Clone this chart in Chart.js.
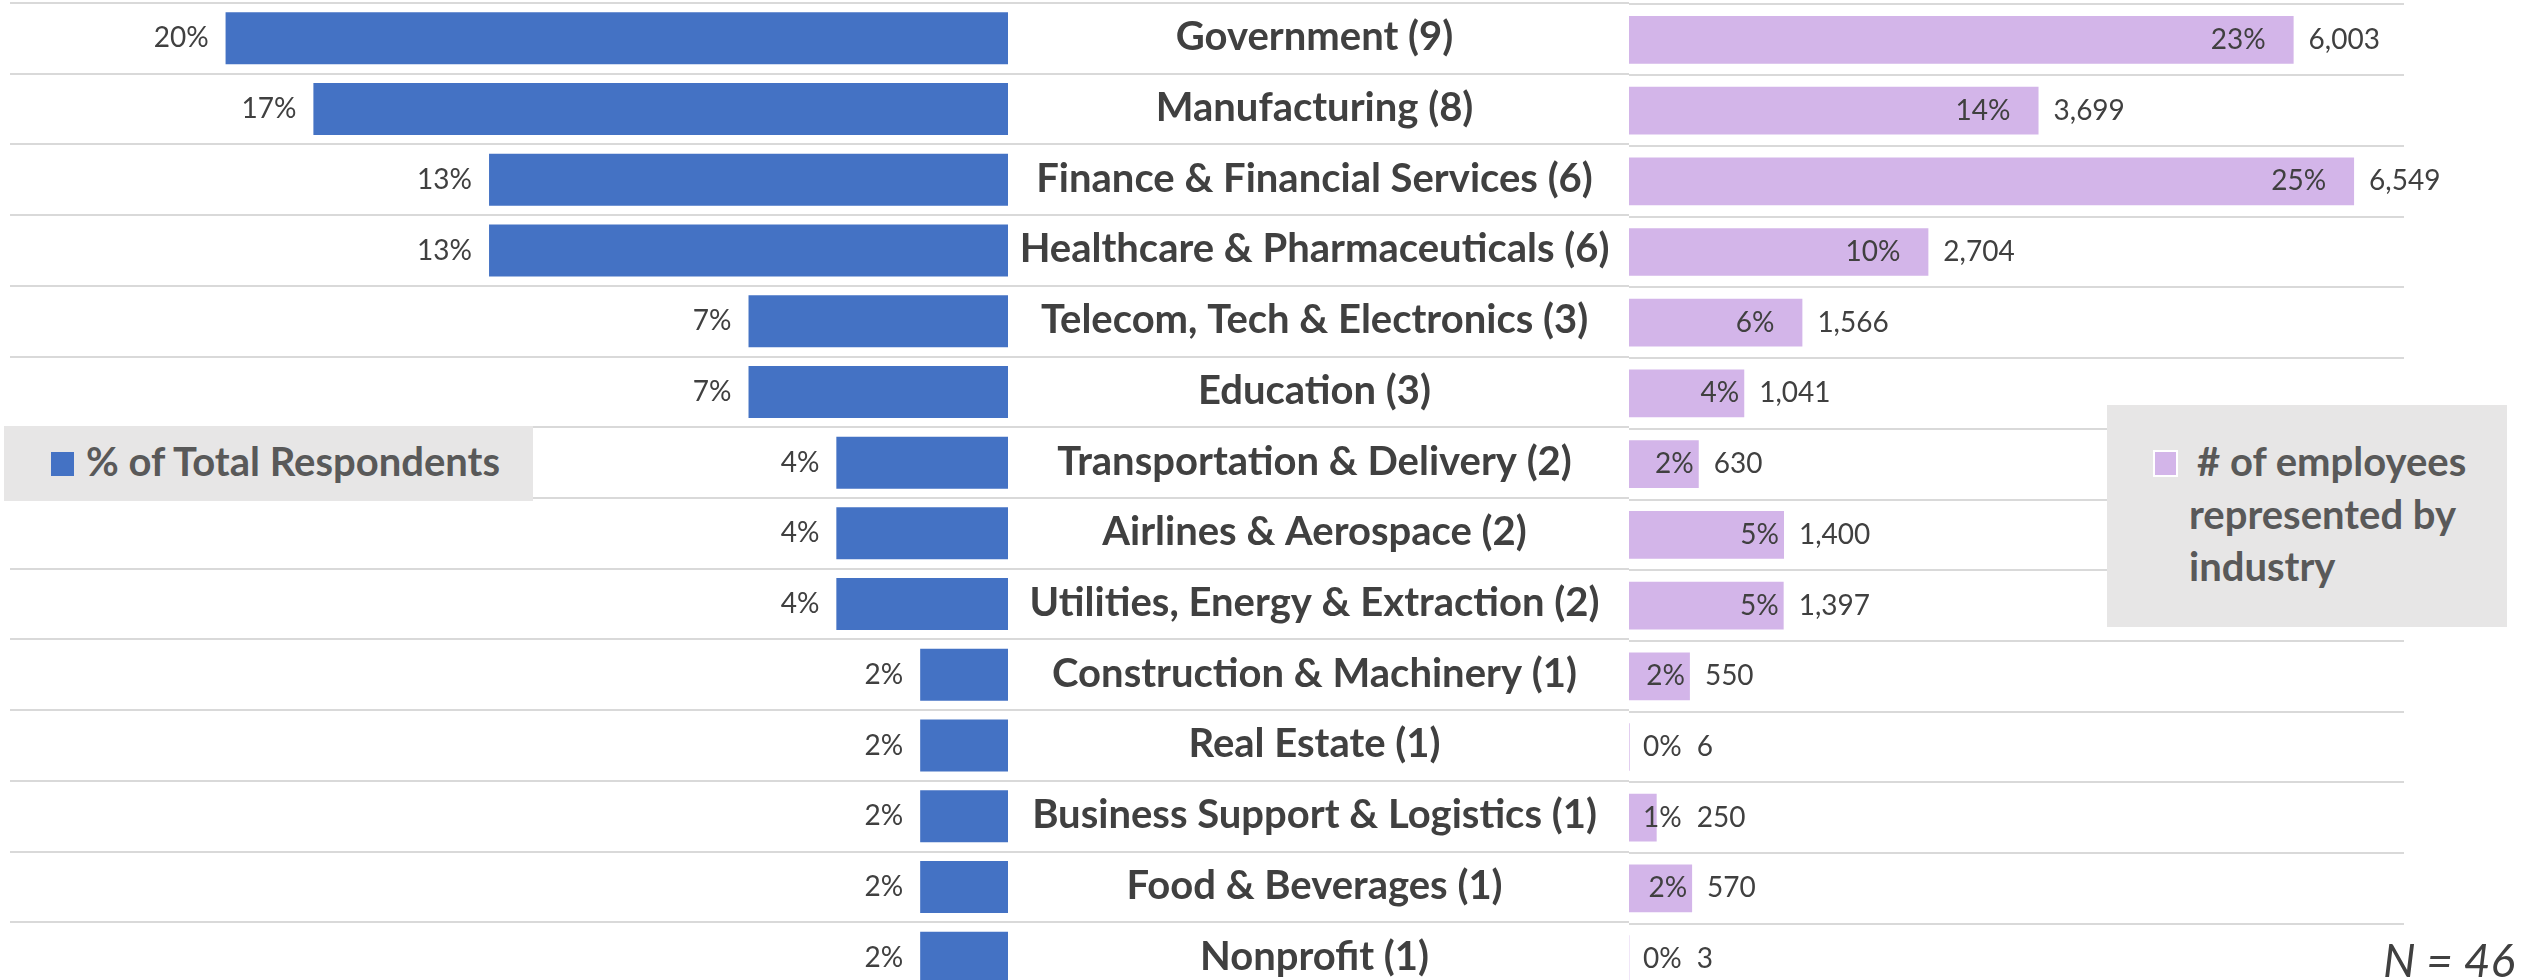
<!DOCTYPE html>
<html>
<head>
<meta charset="utf-8">
<script src="https://cdn.jsdelivr.net/npm/chart.js@4.4.0/dist/chart.umd.min.js"></script>
<style>
  html, body { margin: 0; padding: 0; background: #fff; }
  body { width: 2527px; height: 980px; overflow: hidden; position: relative; font-family: Lato, sans-serif; }
  canvas { position: absolute; top: 0; }
  #respChart { left: 0; }
  #empChart { left: 1629px; }
  .box { position: absolute; background: #e7e6e6; }
  .swatch { position: absolute; box-sizing: border-box; }
  .legendText { position: absolute; font-weight: bold; font-size: 40px; line-height: 52.5px; color: #595959; white-space: nowrap; }
  #note { position: absolute; right: 12px; top: 932px; font-style: italic; font-size: 46px; line-height: 55px; color: #404040; }
</style>
</head>
<body>
<canvas id="respChart" width="1629" height="1000"></canvas>
<canvas id="empChart" width="898" height="1000"></canvas>

<div class="box" style="left:4px; top:426px; width:529px; height:75px;"></div>
<div class="swatch" style="left:51px; top:452px; width:23px; height:24px; background:#4472c4;"></div>
<div class="legendText" style="left:86px; top:435px;">% of Total Respondents</div>

<div class="box" style="left:2107px; top:405px; width:400px; height:222px;"></div>
<div class="swatch" style="left:2153px; top:450px; width:25px; height:27px; background:#d3b5e9; border:2px solid #fff;"></div>
<div class="legendText" style="left:2189px; top:435px; text-indent:8px;"># of employees<br>represented by<br>industry</div>

<div id="note">N = 46</div>

<script>
const industries = [
    'Government (9)',
    'Manufacturing (8)',
    'Finance & Financial Services (6)',
    'Healthcare & Pharmaceuticals (6)',
    'Telecom, Tech & Electronics (3)',
    'Education (3)',
    'Transportation & Delivery (2)',
    'Airlines & Aerospace (2)',
    'Utilities, Energy & Extraction (2)',
    'Construction & Machinery (1)',
    'Real Estate (1)',
    'Business Support & Logistics (1)',
    'Food & Beverages (1)',
    'Nonprofit (1)'
];
// % of total respondents
const respondentPct = [19.6, 17.4, 13.0, 13.0, 6.5, 6.5, 4.3, 4.3, 4.3, 2.2, 2.2, 2.2, 2.2, 2.2];
// # of employees represented and its share
const employees = [6003, 3699, 6549, 2704, 1566, 1041, 630, 1400, 1397, 550, 6, 250, 570, 3];
const employeePct = [23, 14, 25, 10, 6, 4, 2, 5, 5, 2, 0, 1, 2, 0];

const textColor = '#404040';
const gridColor = '#d9d9d9';

// industry names centred in the gap between the two bar sets
const industryLabels = {
    id: 'industryLabels',
    afterDraw(chart) {
        const y = chart.scales.y;
        const ctx = chart.ctx;
        ctx.save();
        ctx.font = 'bold 40px Lato';
        ctx.fillStyle = textColor;
        ctx.textAlign = 'center';
        ctx.textBaseline = 'middle';
        const cx = (y.left + y.right) / 2 - 4;
        industries.forEach(function (name, i) {
            ctx.fillText(name, cx, y.getPixelForTick(i) - 1);
        });
        ctx.restore();
    }
};

const respLabels = {
    id: 'respLabels',
    afterDatasetsDraw(chart) {
        const ctx = chart.ctx;
        ctx.save();
        ctx.font = '28px Lato';
        ctx.fillStyle = textColor;
        ctx.textAlign = 'right';
        ctx.textBaseline = 'middle';
        chart.getDatasetMeta(0).data.forEach(function (bar, i) {
            ctx.fillText(Math.round(respondentPct[i]) + '%', bar.x - 17, bar.y);
        });
        ctx.restore();
    }
};

const employeeLabels = {
    id: 'employeeLabels',
    afterDatasetsDraw(chart) {
        const ctx = chart.ctx;
        const left = chart.chartArea.left;
        ctx.save();
        ctx.font = '28px Lato';
        ctx.fillStyle = textColor;
        ctx.textBaseline = 'middle';
        chart.getDatasetMeta(0).data.forEach(function (bar, i) {
            const pct = employeePct[i] + '%';
            const barW = bar.x - bar.base;
            let pctEnd;
            if (barW >= 50) {
                pctEnd = bar.x - (barW > 160 ? 28 : 5);
                ctx.textAlign = 'right';
                ctx.fillText(pct, pctEnd, bar.y);
            } else {
                ctx.textAlign = 'left';
                ctx.fillText(pct, left + 14, bar.y);
                pctEnd = left + 14 + ctx.measureText(pct).width;
            }
            ctx.textAlign = 'left';
            ctx.fillText(employees[i].toLocaleString('en-US'), Math.max(bar.x, pctEnd) + 15, bar.y);
        });
        ctx.restore();
    }
};

document.addEventListener('DOMContentLoaded', function () {
    new Chart(document.getElementById('respChart'), {
        type: 'bar',
        data: {
            labels: industries,
            datasets: [{
                label: '% of Total Respondents',
                data: respondentPct,
                backgroundColor: '#4472c4',
                borderWidth: 0,
                barPercentage: 0.735,
                categoryPercentage: 1
            }]
        },
        options: {
            indexAxis: 'y',
            responsive: false,
            animation: false,
            devicePixelRatio: 1,
            layout: { padding: { left: 10, right: 0, top: 3, bottom: 7 } },
            scales: {
                x: { display: false, reverse: true, min: 0, max: 25 },
                y: {
                    position: 'right',
                    grid: { color: gridColor, lineWidth: 2, tickLength: 621 },
                    border: { display: false },
                    ticks: { display: false }
                }
            },
            plugins: { legend: { display: false }, tooltip: { enabled: false } }
        },
        plugins: [respLabels, industryLabels]
    });

    new Chart(document.getElementById('empChart'), {
        type: 'bar',
        data: {
            labels: industries,
            datasets: [{
                label: '# of employees represented by industry',
                data: employees,
                backgroundColor: '#d3b5e9',
                borderWidth: 0,
                barPercentage: 0.675,
                categoryPercentage: 1
            }]
        },
        options: {
            indexAxis: 'y',
            responsive: false,
            animation: false,
            devicePixelRatio: 1,
            layout: { padding: { left: 0, right: 123, top: 4.5, bottom: 5.5 } },
            scales: {
                x: { display: false, min: 0, max: 7000 },
                y: {
                    grid: { color: gridColor, lineWidth: 2, drawTicks: false },
                    border: { display: false },
                    ticks: { display: false }
                }
            },
            plugins: { legend: { display: false }, tooltip: { enabled: false } }
        },
        plugins: [employeeLabels]
    });
});
</script>
</body>
</html>
